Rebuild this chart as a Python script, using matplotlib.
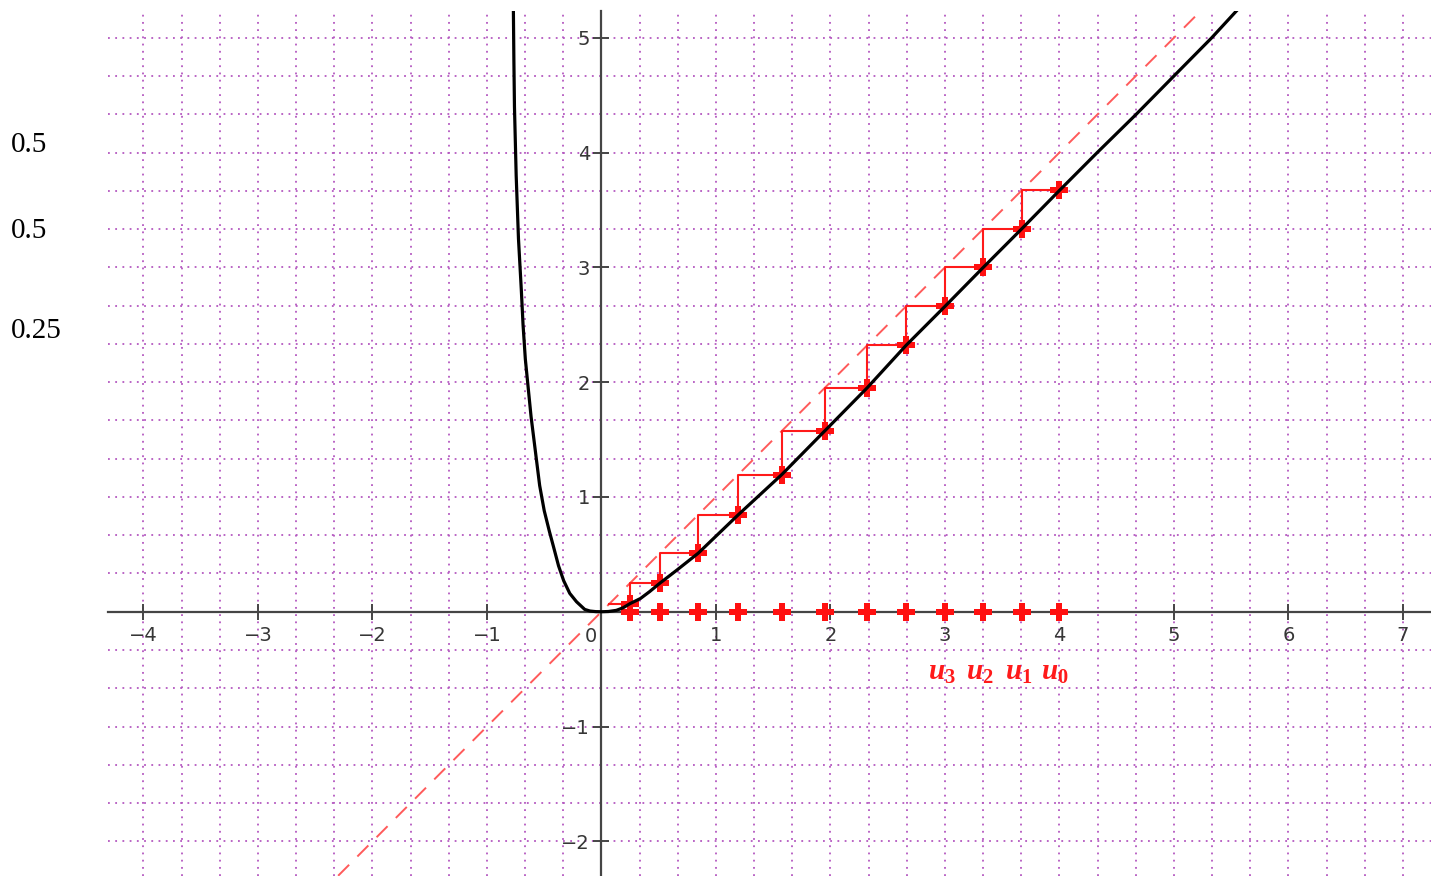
import matplotlib
matplotlib.use('Agg')
import matplotlib.pyplot as plt
import numpy as np

# curve (x, y)
curve_x = [-0.770, -0.765, -0.760, -0.745, -0.725, -0.700, -0.685, -0.665, -0.640,
           -0.615, -0.590, -0.565, -0.540, -0.500, -0.455, -0.420, -0.375, -0.330,
           -0.277, -0.218, -0.146, -0.100, -0.050, 0.0, 0.06, 0.13, 0.19, 0.248, 0.34,
           0.42, 0.509, 0.655, 0.845, 1.195, 1.575, 1.95, 2.32, 2.66, 3.0, 3.335,
           3.67, 4.0, 4.33, 4.67, 5.0, 5.33, 5.57]
curve_y = [5.30, 4.80, 4.40, 3.80, 3.25, 2.80, 2.50, 2.20, 1.95,
           1.70, 1.50, 1.30, 1.10, 0.88, 0.70, 0.57, 0.40, 0.27,
           0.16, 0.087, 0.02, 0.006, 0.001, 0.0, 0.002, 0.012, 0.035, 0.07, 0.115,
           0.175, 0.248, 0.36, 0.51, 0.845, 1.195, 1.575, 1.95, 2.32, 2.66, 3.0,
           3.335, 3.67, 4.0, 4.333, 4.667, 5.0, 5.26]

# terms of the sequence u_n (u_{n+1} = f(u_n))
u = [4.0, 3.67, 3.335, 3.0, 2.66, 2.32, 1.95, 1.575, 1.195, 0.845, 0.509, 0.248, 0.07]

diag = [-2.3, 5.2]

xticks = [-4, -3, -2, -1, 1, 2, 3, 4, 5, 6, 7]
yticks = [-2, -1, 1, 2, 3, 4, 5]
side_notes = ['0.5', '0.5', '0.25']
u_labels = ['$u_3$', '$u_2$', '$u_1$', '$u_0$']

plt.rcParams['mathtext.fontset'] = 'custom'
plt.rcParams['mathtext.it'] = 'Liberation Serif:italic:bold'
plt.rcParams['mathtext.rm'] = 'Liberation Serif:bold'

W, H = 1431, 876
fig = plt.figure(figsize=(W / 100, H / 100), dpi=100)
ax = fig.add_axes([108 / W, 0, 1 - 108 / W, 1 - 11 / H])
ax.set_xlim(-4.31, 7.245)
ax.set_ylim(-2.302, 5.233)

# dotted grid every 1/3
grid_kw = dict(color='#b458c0', lw=1.3, ls=(0, (1, 3.0)), zorder=0)
for k in range(-13, 23):
    ax.axvline(k / 3, **grid_kw)
for k in range(-7, 16):
    ax.axhline(k / 3, **grid_kw)

# axes through the origin
for s in ['top', 'right']:
    ax.spines[s].set_visible(False)
for s in ['left', 'bottom']:
    ax.spines[s].set_position(('data', 0))
    ax.spines[s].set_color('#454545')
    ax.spines[s].set_linewidth(1.6)
    ax.spines[s].set_zorder(1)
ax.set_xticks(xticks)
ax.set_xticklabels([str(t).replace('-', '\u2212') for t in xticks])
ax.set_yticks(yticks)
ax.set_yticklabels([str(t).replace('-', '\u2212') for t in yticks])
ax.tick_params(direction='inout', length=11.5, width=1.4, color='#454545',
               labelsize=14, labelcolor='#363636')
ax.tick_params(axis='x', pad=4.5)
ax.tick_params(axis='y', pad=2.5)
ax.text(-0.04, -0.214, '0', ha='right', va='center', fontsize=14, color='#363636')

# y = x
ax.plot(diag, diag, color='#ff5a5a', lw=1.4, dashes=(8, 6), zorder=2)

# cobweb
cx = [u[0]]
cy = [u[1]]
for i in range(1, len(u) - 1):
    cx += [u[i], u[i]]
    cy += [u[i], u[i + 1]]
cx.append(u[-1])
cy.append(u[-1])
ax.plot(cx, cy, color='#ff1a1a', lw=1.5, zorder=3)

ax.plot(u[:-1], [0] * (len(u) - 1), ls='none', marker='P', ms=13, mew=0,
        color='#ff1010', zorder=4, clip_on=False)
ax.plot(u[:-1], u[1:], ls='none', marker='P', ms=13, mew=0,
        color='#ff1010', zorder=4)

# the curve
ax.plot(curve_x, curve_y, color='black', lw=2.3, zorder=5)

# labels under the sequence
for lab, xl in zip(u_labels, [2.850, 3.188, 3.522, 3.843]):
    ax.text(xl, -0.595, lab, color='#ff1a1a', fontsize=21, ha='left', va='baseline')

# stray notes in the left margin
for note, yb in zip(side_notes, [152, 238, 338]):
    fig.text(11 / W, 1 - yb / H, note, fontsize=21, family='Liberation Serif',
             ha='left', va='baseline', color='black')

fig.savefig('out.png', dpi=100)
